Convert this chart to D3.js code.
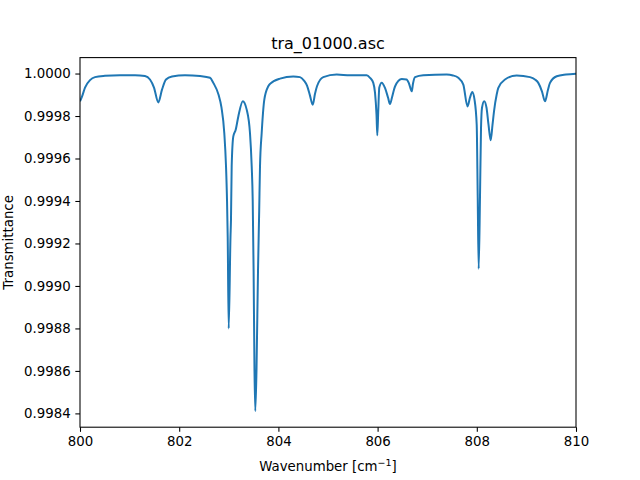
<!DOCTYPE html>
<html>
<head>
<meta charset="utf-8">
<script src="https://cdn.jsdelivr.net/npm/d3@7"></script>
<style>
  body { margin: 0; background: #fff; }
  text { font-family: "DejaVu Sans", sans-serif; fill: #000; }
</style>
</head>
<body>
<div id="chart"></div>
<script>
// Values
const wavenumber = [
  800.000, 800.040, 800.101, 800.202, 800.302, 800.504, 800.806, 801.109, 801.310, 801.411,
  801.492, 801.579, 801.653, 801.734, 801.855, 802.117, 802.419, 802.621, 802.688, 802.792,
  802.853, 802.909, 802.944, 802.964, 802.978, 802.998, 803.034, 803.044, 803.058, 803.091,
  803.139, 803.192, 803.282, 803.361, 803.427, 803.462, 803.482, 803.500, 803.518, 803.534,
  803.558, 803.589, 803.613, 803.629, 803.663, 803.716, 803.796, 803.831, 804.032, 804.300,
  804.435, 804.516, 804.577, 804.637, 804.692, 804.738, 804.778, 804.905, 805.175, 805.444,
  805.780, 805.847, 805.913, 805.948, 805.978, 805.994, 806.014, 806.034, 806.083, 806.149,
  806.210, 806.250, 806.290, 806.351, 806.486, 806.583, 806.633, 806.688, 806.714, 806.754,
  806.921, 807.393, 807.520, 807.627, 807.728, 807.813, 807.863, 807.909, 807.954, 807.998,
  808.018, 808.038, 808.065, 808.085, 808.105, 808.149, 808.196, 808.236, 808.280, 808.317,
  808.347, 808.401, 808.434, 808.569, 808.804, 809.073, 809.173, 809.240, 809.315, 809.375,
  809.435, 809.476, 809.611, 809.798, 810.000
];
const transmittance = [
  0.999869, 0.999891, 0.999934, 0.999969, 0.999983, 0.999989, 0.999992, 0.999992, 0.999988, 0.999972,
  0.999934, 0.999864, 0.999924, 0.999972, 0.999986, 0.999992, 0.999988, 0.999980, 0.999956, 0.999901,
  0.999839, 0.999720, 0.999562, 0.999404, 0.999231, 0.998800, 0.999231, 0.999310, 0.999562, 0.999704,
  0.999735, 0.999798, 0.999870, 0.999830, 0.999720, 0.999562, 0.999404, 0.999073, 0.998600, 0.998411,
  0.998600, 0.999073, 0.999357, 0.999562, 0.999720, 0.999877, 0.999940, 0.999951, 0.999976, 0.999986,
  0.999983, 0.999967, 0.999943, 0.999896, 0.999853, 0.999905, 0.999940, 0.999983, 0.999995, 0.999992,
  0.999992, 0.999980, 0.999956, 0.999909, 0.999806, 0.999709, 0.999830, 0.999934, 0.999957, 0.999932,
  0.999887, 0.999856, 0.999887, 0.999939, 0.999974, 0.999972, 0.999953, 0.999916, 0.999953, 0.999983,
  0.999992, 0.999995, 0.999991, 0.999980, 0.999948, 0.999845, 0.999887, 0.999913, 0.999877, 0.999759,
  0.999428, 0.999081, 0.999428, 0.999743, 0.999839, 0.999870, 0.999839, 0.999759, 0.999686, 0.999759,
  0.999822, 0.999901, 0.999932, 0.999972, 0.999991, 0.999983, 0.999972, 0.999956, 0.999915, 0.999869,
  0.999924, 0.999956, 0.999987, 0.999995, 0.999999
];
const xTicks = [800, 802, 804, 806, 808, 810];
const yTicks = [0.9984, 0.9986, 0.9988, 0.9990, 0.9992, 0.9994, 0.9996, 0.9998, 1.0000];

const width = 640, height = 480;
const margin = { left: 80, right: 64, top: 57.6, bottom: 52.8 };
const plotW = width - margin.left - margin.right;
const plotH = height - margin.top - margin.bottom;

const svg = d3.select("#chart").append("svg")
    .attr("width", width)
    .attr("height", height);

svg.append("rect").attr("width", width).attr("height", height).attr("fill", "#fff");

const g = svg.append("g").attr("transform", `translate(${margin.left},${margin.top})`);

const x = d3.scaleLinear().domain([800, 810]).range([0, plotW]);
const y = d3.scaleLinear().domain([0.998335, 1.000075]).range([plotH, 0]);

// spectrum line, clipped to the axes like matplotlib
svg.append("clipPath").attr("id", "clip")
    .append("rect").attr("width", plotW).attr("height", plotH);

const points = wavenumber.map((w, i) => [w, transmittance[i]]);
const line = d3.line()
    .x(d => x(d[0]))
    .y(d => y(d[1]))
    .curve(d3.curveMonotoneX);

g.append("path")
    .datum(points)
    .attr("clip-path", "url(#clip)")
    .attr("fill", "none")
    .attr("stroke", "#1f77b4")
    .attr("stroke-width", 2)
    .attr("stroke-linejoin", "round")
    .attr("d", line);

// axes
const tick = 4.67;
const xAxis = g.append("g")
    .attr("transform", `translate(0,${plotH})`)
    .call(d3.axisBottom(x).tickValues(xTicks).tickFormat(d3.format("d"))
        .tickSize(tick).tickSizeOuter(0).tickPadding(4.67));
const yAxis = g.append("g")
    .call(d3.axisLeft(y).tickValues(yTicks).tickFormat(d3.format(".4f"))
        .tickSize(tick).tickSizeOuter(0).tickPadding(4.67));

[xAxis, yAxis].forEach(a => {
    a.select(".domain").remove();
    a.selectAll("line").attr("stroke", "#000").attr("stroke-width", 1.07);
    a.selectAll("text").style("font-size", "13.33px").attr("fill", "#000");
});

// frame
g.append("rect")
    .attr("width", plotW).attr("height", plotH)
    .attr("fill", "none").attr("stroke", "#000").attr("stroke-width", 1.07);

// title and labels
svg.append("text")
    .attr("x", margin.left + plotW / 2).attr("y", 49)
    .attr("text-anchor", "middle")
    .style("font-size", "16px")
    .text("tra_01000.asc");

const xl = svg.append("text")
    .attr("x", margin.left + plotW / 2).attr("y", 471)
    .attr("text-anchor", "middle")
    .style("font-size", "13.33px");
xl.append("tspan").text("Wavenumber [cm");
xl.append("tspan").attr("dy", -5).style("font-size", "9.5px").text("\u22121");
xl.append("tspan").attr("dy", 5).text("]");

svg.append("text")
    .attr("transform", `translate(12.5,${margin.top + plotH / 2}) rotate(-90)`)
    .attr("text-anchor", "middle")
    .style("font-size", "13.33px")
    .text("Transmittance");
</script>
</body>
</html>
